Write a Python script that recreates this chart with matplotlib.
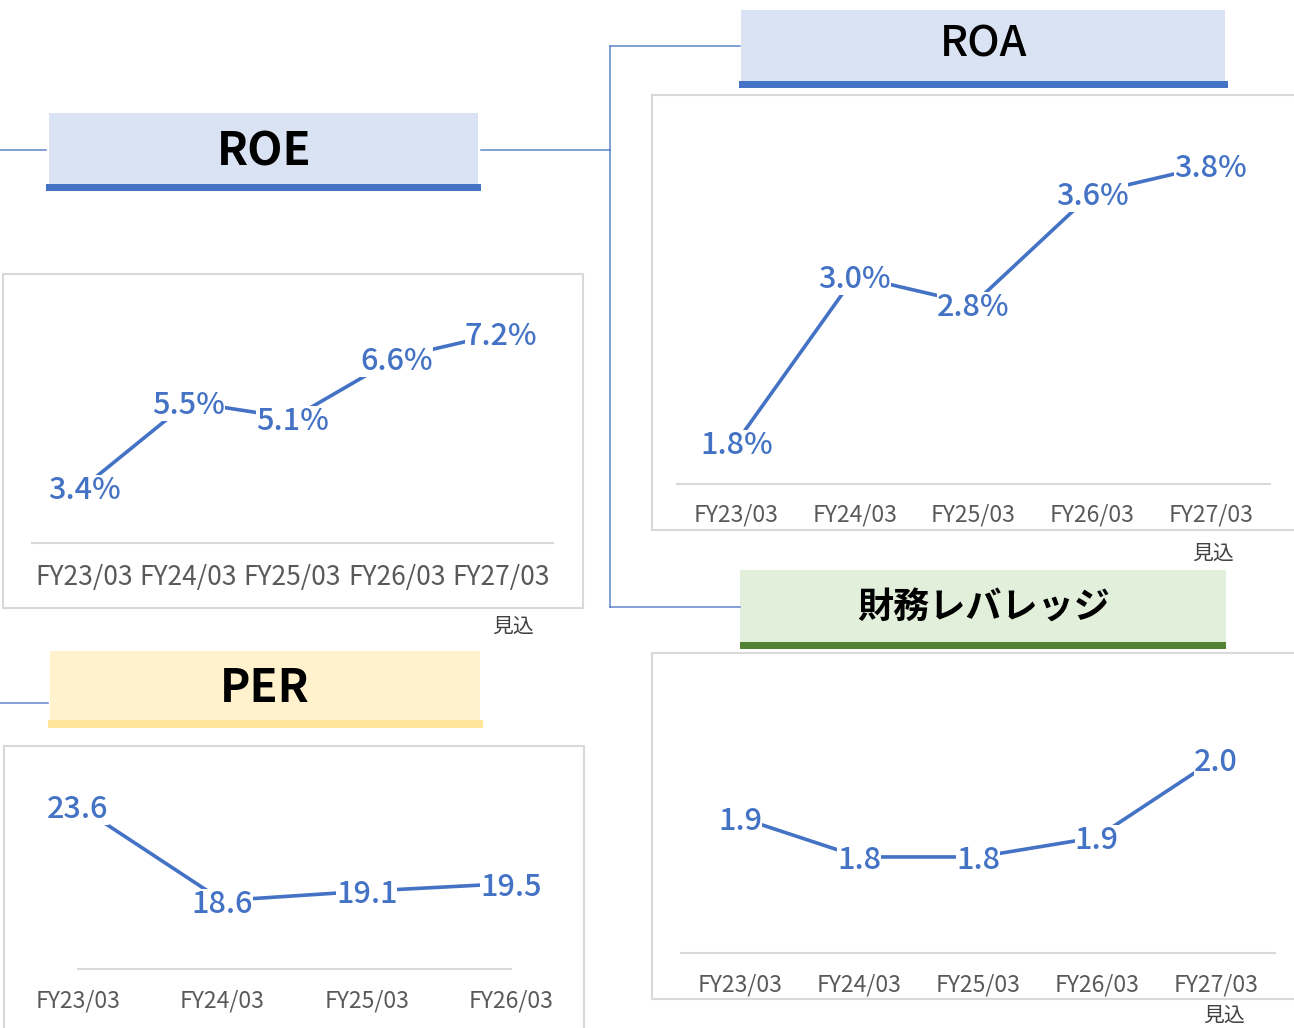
import matplotlib
matplotlib.use('Agg')
import matplotlib.pyplot as plt
from matplotlib.patches import Rectangle

plt.rcParams['font.family'] = ['Noto Sans CJK JP', 'DejaVu Sans']

# data
cats5 = ['FY23/03', 'FY24/03', 'FY25/03', 'FY26/03', 'FY27/03']
cats4 = ['FY23/03', 'FY24/03', 'FY25/03', 'FY26/03']
roe = [3.4, 5.5, 5.1, 6.6, 7.2]
roa = [1.8, 3.0, 2.8, 3.6, 3.8]
leverage = [1.90, 1.82, 1.82, 1.86, 2.02]
per = [23.6, 18.6, 19.1, 19.5]

W, H = 1294, 1028
BLUE = '#4472C4'
GRAY_TXT = '#595959'
FRAME = '#D9D9D9'

fig = plt.figure(figsize=(W / 100, H / 100), dpi=100)

# background layer in pixel coordinates
bg = fig.add_axes([0, 0, 1, 1], zorder=0)
bg.set_xlim(0, W)
bg.set_ylim(H, 0)
bg.axis('off')


def box(x0, y0, x1, y1, **kw):
    bg.add_patch(Rectangle((x0, y0), x1 - x0, y1 - y0, **kw))


def px_axes(x0, y0, x1, y1):
    ax = fig.add_axes([x0 / W, 1 - y1 / H, (x1 - x0) / W, (y1 - y0) / H], zorder=2)
    ax.set_facecolor('none')
    return ax


# connector lines
conn = dict(color=BLUE, lw=1.1, alpha=0.85)
bg.plot([0, 46], [150, 150], **conn)
bg.plot([481, 610], [150, 150], **conn)
bg.plot([610, 610], [46, 607], **conn)
bg.plot([610, 740], [46, 46], **conn)
bg.plot([610, 740], [607, 607], **conn)
bg.plot([0, 48], [703, 703], **conn)

# chart frames
for x0, y0, x1, y1 in [(3, 274, 583, 608), (652, 95, 1310, 530),
                       (652, 653, 1310, 999), (4, 746, 584, 1040)]:
    box(x0, y0, x1, y1, facecolor='white', edgecolor=FRAME, lw=1.5)

# title boxes
box(49, 113, 478, 184, facecolor='#DAE3F3', edgecolor='none')
box(46, 184, 481, 191, facecolor=BLUE, edgecolor='none')
bg.text(264, 152, 'ROE', ha='center', va='center', fontsize=33, fontweight='bold')

box(741, 10, 1225, 81, facecolor='#DAE3F3', edgecolor='none')
box(739, 81, 1228, 88, facecolor=BLUE, edgecolor='none')
bg.text(984, 44, 'ROA', ha='center', va='center', fontsize=31, fontweight='medium')

box(740, 570, 1226, 642, facecolor='#E2EFDA', edgecolor='none')
box(740, 642, 1226, 649, facecolor='#548235', edgecolor='none')
bg.text(984, 608, '財務レバレッジ', ha='center', va='center', fontsize=26, fontweight='bold')

box(50, 651, 480, 720, facecolor='#FFF2CC', edgecolor='none')
box(48, 720, 483, 728, facecolor='#FFE699', edgecolor='none')
bg.text(265, 689, 'PER', ha='center', va='center', fontsize=33, fontweight='bold')

# 見込 notes
for x, y in [(513, 627), (1213, 554), (1224, 1016)]:
    bg.text(x, y, '見込', ha='center', va='center', fontsize=15, color='#404040')


def line_chart(ax, cats, vals, fmt, ylim, xlim, tick_fs, pad):
    x = list(range(len(vals)))
    ax.plot(x, vals, color=BLUE, lw=2.6, solid_capstyle='butt', zorder=2)
    for xi, v in zip(x, vals):
        ax.text(xi, v, fmt.format(v), ha='center', va='center_baseline', fontsize=22,
                fontweight='medium', color=BLUE, zorder=3, clip_on=False,
                bbox=dict(facecolor='white', edgecolor='none', pad=0))
    ax.set_xlim(*xlim)
    ax.set_ylim(*ylim)
    ax.set_xticks(x)
    ax.set_xticklabels(cats, fontsize=tick_fs, color=GRAY_TXT)
    ax.tick_params(axis='x', length=0, pad=pad)
    ax.set_yticks([])
    for s in ['top', 'left', 'right']:
        ax.spines[s].set_visible(False)
    ax.spines['bottom'].set_color(FRAME)
    ax.spines['bottom'].set_linewidth(1.5)


# ROE: baseline y=543, 40.3 px per point
ax1 = px_axes(32, 543 - 6 * 40.3, 553, 543)
line_chart(ax1, cats5, roe, '{:.1f}%', (2, 8), (-0.5, 4.5), 19, 15)

# ROA: baseline y=484, 138.5 px per point
ax2 = px_axes(677, 484 - 2.5 * 138.5, 1270, 484)
line_chart(ax2, cats5, roa, '{:.1f}%', (1.5, 4.0), (-0.5, 4.5), 16.5, 14)

# 財務レバレッジ: baseline y=953, 490 px per unit
ax3 = px_axes(681, 953 - 0.6 * 490, 1275, 953)
line_chart(ax3, cats5, leverage, '{:.1f}', (1.624, 2.224), (-0.5, 4.5), 16.5, 15)

# PER: baseline y=969, 19 px per unit
ax4 = px_axes(78, 969 - 10 * 19, 511, 969)
line_chart(ax4, cats4, per, '{:.1f}', (15, 25), (0, 3), 16.5, 15)

fig.savefig('out.png', dpi=100)
